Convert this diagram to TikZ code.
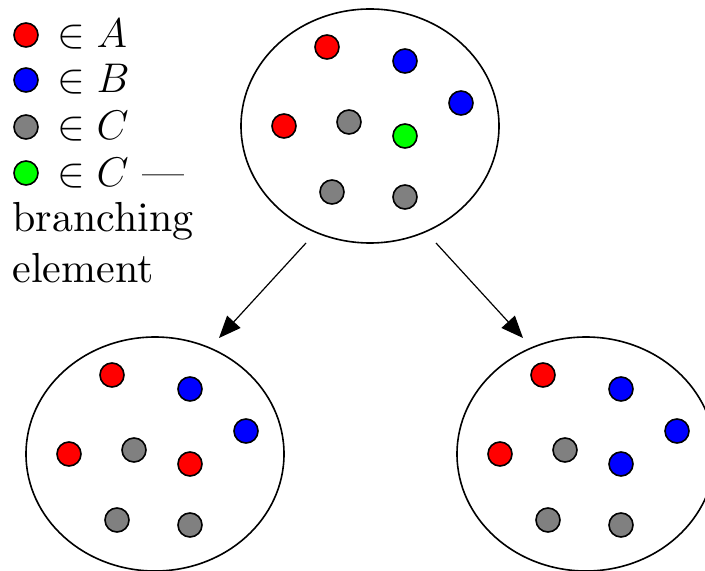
\documentclass[tikz,border=0pt]{standalone}
\usepackage{amsmath}
\usetikzlibrary{positioning, arrows.meta, calc, shapes.geometric}
\definecolor{setA}{RGB}{255,0,0}
\definecolor{setB}{RGB}{0,0,255}
\definecolor{setC}{RGB}{128,128,128}
\definecolor{branch}{RGB}{0,255,0}
\font\legrm="[lmroman10-regular]:mapping=tex-text" at 21pt
\newcommand{\legfont}{\fontsize{21}{25}\selectfont\legrm}

\begin{document}
\begin{tikzpicture}[x=0.5pt, y=-0.5pt,
    pool/.style={ellipse, draw, line width=0.8pt, minimum width=129pt, minimum height=117pt, inner sep=0pt},
    elem/.style={circle, draw, line width=0.8pt, minimum size=12pt, inner sep=0pt},
    legtext/.style={anchor=base west, inner sep=0pt, font=\legfont},
]
\useasboundingbox (0,0) rectangle (705,571);
\clip (0,0) rectangle (705,571);
% legend
\node[elem, fill=setA] (kA) at (26,35) {};
\node[elem, fill=setB] (kB) at (26,80) {};
\node[elem, fill=setC] (kC) at (26,127) {};
\node[elem, fill=branch] (kD) at (26,173) {};
\node[legtext] (tA) at (57,48) {$\in A$};
\node[legtext] (tB) at (57,93) {$\in B$};
\node[legtext] (tC) at (57,140) {$\in C$};
\node[legtext] (tD) at (57,187) {$\in C$ ---};
\node[legtext] (tE) at (12,232) {branching};
\node[legtext] (tF) at (12,283) {element};
% the three sets
\node[pool] (sTop) at (370,126) {};
\node[pool] (sLeft) at (155,454) {};
\node[pool] (sRight) at (586,454) {};
\foreach \s/\c in {sTop/branch, sLeft/setA, sRight/setB} {
  \node[elem, fill=setA] (\s-1) at ($(\s)+(-43,-79)$) {};
  \node[elem, fill=setB] (\s-2) at ($(\s)+(35,-65)$) {};
  \node[elem, fill=setB] (\s-3) at ($(\s)+(91,-23)$) {};
  \node[elem, fill=setA] (\s-4) at ($(\s)+(-86,0)$) {};
  \node[elem, fill=setC] (\s-5) at ($(\s)+(-21,-4)$) {};
  \node[elem, fill=\c] (\s-6) at ($(\s)+(35,10)$) {};
  \node[elem, fill=setC] (\s-7) at ($(\s)+(-38,66)$) {};
  \node[elem, fill=setC] (\s-8) at ($(\s)+(35,71)$) {};
}
% branching arrows
\coordinate (aL) at (306,243);
\coordinate (bL) at (219,338);
\coordinate (aR) at (436,243);
\coordinate (bR) at (523,338);
\draw[-{Triangle[length=11pt, width=9pt]}, line width=0.6pt] (aL)--(bL);
\draw[-{Triangle[length=11pt, width=9pt]}, line width=0.6pt] (aR)--(bR);
\end{tikzpicture}
\end{document}
